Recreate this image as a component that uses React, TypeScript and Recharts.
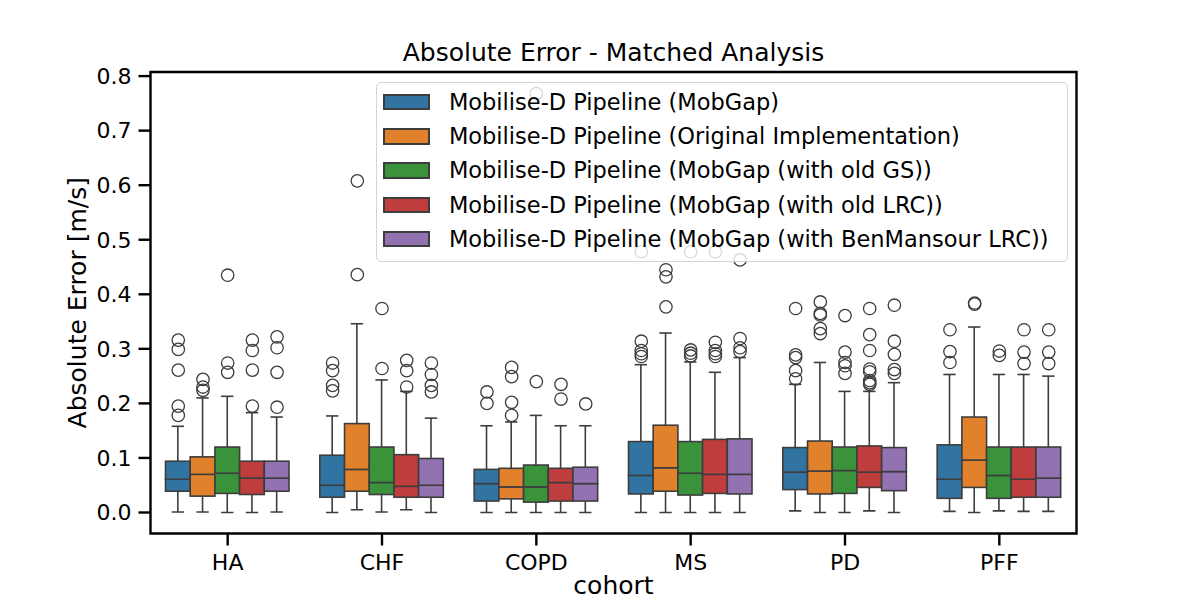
import React from 'react';
import {
  ComposedChart,
  Bar,
  Scatter,
  XAxis,
  YAxis,
  Legend,
  ReferenceArea,
  Label,
} from 'recharts';

const FONT = '"DejaVu Sans", sans-serif';
const LINE = '#3d3d3d';

const COHORTS = ['HA', 'CHF', 'COPD', 'MS', 'PD', 'PFF'];
const PIPELINES = [
  'Mobilise-D Pipeline (MobGap)',
  'Mobilise-D Pipeline (Original Implementation)',
  'Mobilise-D Pipeline (MobGap (with old GS))',
  'Mobilise-D Pipeline (MobGap (with old LRC))',
  'Mobilise-D Pipeline (MobGap (with BenMansour LRC))',
];
const COLORS = ['#3274a1', '#e1812c', '#3a923a', '#c03d3e', '#9372b2'];
const Y_TICKS = [0, 0.1, 0.2, 0.3, 0.4, 0.5, 0.6, 0.7, 0.8];
const Y_DOMAIN: [number, number] = [-0.0385, 0.8075];

// Per cohort: [whisker low, Q1, median, Q3, whisker high]
const mobgapStats = [
  [0.001, 0.039, 0.061, 0.094, 0.158],
  [0.0, 0.028, 0.05, 0.105, 0.177],
  [0.0, 0.021, 0.053, 0.079, 0.159],
  [0.0, 0.034, 0.068, 0.13, 0.271],
  [0.003, 0.042, 0.074, 0.119, 0.235],
  [0.002, 0.026, 0.061, 0.124, 0.253],
];
const originalStats = [
  [0.001, 0.03, 0.07, 0.102, 0.21],
  [0.005, 0.039, 0.079, 0.163, 0.346],
  [0.0, 0.025, 0.047, 0.081, 0.166],
  [0.0, 0.039, 0.082, 0.16, 0.329],
  [0.0, 0.034, 0.076, 0.131, 0.275],
  [0.0, 0.046, 0.096, 0.175, 0.34],
];
const oldGsStats = [
  [0.0, 0.035, 0.072, 0.12, 0.213],
  [0.001, 0.033, 0.055, 0.12, 0.243],
  [0.0, 0.019, 0.047, 0.087, 0.178],
  [0.0, 0.032, 0.072, 0.13, 0.276],
  [0.0, 0.035, 0.077, 0.12, 0.222],
  [0.003, 0.026, 0.068, 0.12, 0.253],
];
const oldLrcStats = [
  [0.0, 0.033, 0.063, 0.094, 0.183],
  [0.005, 0.028, 0.048, 0.106, 0.222],
  [0.0, 0.021, 0.055, 0.081, 0.159],
  [0.0, 0.035, 0.07, 0.134, 0.257],
  [0.003, 0.046, 0.074, 0.122, 0.222],
  [0.002, 0.028, 0.061, 0.12, 0.253],
];
const benMansourStats = [
  [0.001, 0.039, 0.063, 0.094, 0.175],
  [0.0, 0.028, 0.05, 0.099, 0.173],
  [0.0, 0.021, 0.053, 0.083, 0.159],
  [0.0, 0.034, 0.07, 0.135, 0.284],
  [0.0, 0.04, 0.075, 0.119, 0.238],
  [0.002, 0.028, 0.063, 0.12, 0.25],
];

// Fliers per cohort
const mobgapOutliers = [
  [0.316, 0.299, 0.261, 0.195, 0.178],
  [0.274, 0.26, 0.233, 0.223],
  [0.221, 0.2],
  [0.478, 0.314, 0.297, 0.291, 0.286],
  [0.374, 0.289, 0.284, 0.26, 0.245],
  [0.335, 0.295, 0.275],
];
const originalOutliers = [
  [0.244, 0.23, 0.224],
  [0.608, 0.436],
  [0.266, 0.249, 0.202, 0.178],
  [0.445, 0.432, 0.377],
  [0.386, 0.365, 0.362, 0.337, 0.328],
  [0.384, 0.382],
];
const oldGsOutliers = [
  [0.435, 0.274, 0.257],
  [0.374, 0.264],
  [0.768, 0.24],
  [0.478, 0.298, 0.292, 0.287],
  [0.361, 0.294, 0.275, 0.269, 0.255],
  [0.296, 0.288],
];
const oldLrcOutliers = [
  [0.316, 0.297, 0.261, 0.195],
  [0.279, 0.26, 0.23],
  [0.235, 0.208],
  [0.478, 0.312, 0.297, 0.291, 0.286],
  [0.374, 0.326, 0.297, 0.263, 0.258, 0.242, 0.238, 0.235],
  [0.335, 0.294, 0.273],
];
const benMansourOutliers = [
  [0.322, 0.302, 0.257, 0.193],
  [0.274, 0.253, 0.233, 0.221],
  [0.199],
  [0.463, 0.319, 0.302, 0.295],
  [0.38, 0.314, 0.29, 0.262, 0.255],
  [0.335, 0.294, 0.273],
];

const STATS = [mobgapStats, originalStats, oldGsStats, oldLrcStats, benMansourStats];
const OUTLIERS = [mobgapOutliers, originalOutliers, oldGsOutliers, oldLrcOutliers, benMansourOutliers];

// Box slot width as a share of one category band (seaborn dodge: 0.8 / 5 hues)
const DODGE = 0.8 / PIPELINES.length;
const BOX_SIZE = 24.7;

// Stacked segments per pipeline: invisible base, lower whisker, lower box, upper box, upper whisker
const rows = COHORTS.map((cohort, i) => {
  const row: Record<string, any> = { cohort };
  STATS.forEach((stats, k) => {
    const [lo, q1, med, q3, hi] = stats[i];
    row[`base${k}`] = lo;
    row[`lw${k}`] = q1 - lo;
    row[`blo${k}`] = med - q1;
    row[`bhi${k}`] = q3 - med;
    row[`hw${k}`] = hi - q3;
  });
  return row;
});

const outlierPoints = OUTLIERS.map((series, k) =>
  series.flatMap((vals, i) =>
    vals.map((v) => ({ pos: i + 0.5 + (k - 2) * DODGE, value: v }))
  )
);

const Empty = () => <g />;

const LowerWhisker = (p: any) => {
  const { x, y, width, height } = p;
  if (![x, y, width, height].every(Number.isFinite)) return <g />;
  const cx = x + width / 2;
  const yb = y + height;
  return (
    <g>
      <line x1={cx} x2={cx} y1={y} y2={yb} stroke={LINE} strokeWidth={1.6} />
      <line x1={cx - width / 4} x2={cx + width / 4} y1={yb} y2={yb} stroke={LINE} strokeWidth={1.6} />
    </g>
  );
};

const UpperWhisker = (p: any) => {
  const { x, y, width, height } = p;
  if (![x, y, width, height].every(Number.isFinite)) return <g />;
  const cx = x + width / 2;
  return (
    <g>
      <line x1={cx} x2={cx} y1={y} y2={y + height} stroke={LINE} strokeWidth={1.6} />
      <line x1={cx - width / 4} x2={cx + width / 4} y1={y} y2={y} stroke={LINE} strokeWidth={1.6} />
    </g>
  );
};

const makeBox = (color: string) => (p: any) => {
  const { x, y, width, height } = p;
  if (![x, y, width, height].every(Number.isFinite)) return <g />;
  return (
    <rect x={x} y={y} width={width} height={height} fill={color} stroke={LINE} strokeWidth={1.6} />
  );
};

const Ring = (p: any) => (
  <circle cx={p.cx} cy={p.cy} r={6.2} fill="none" stroke={LINE} strokeWidth={1.3} />
);

const LegendBox = () => (
  <div
    style={{
      width: 692,
      height: 180,
      boxSizing: 'border-box',
      border: '1.6px solid #d5d5d5',
      borderRadius: 5,
      background: 'rgba(255,255,255,0.8)',
      fontFamily: FONT,
      fontSize: 22.5,
      color: '#000',
      paddingTop: 1.7,
    }}
  >
    {PIPELINES.map((name, k) => (
      <div key={name} style={{ display: 'flex', alignItems: 'center', height: 34.25 }}>
        <div
          style={{
            marginLeft: 6.4,
            width: 47,
            height: 16.7,
            boxSizing: 'border-box',
            background: COLORS[k],
            border: `2px solid ${LINE}`,
            flex: 'none',
          }}
        />
        <span style={{ marginLeft: 18.5, lineHeight: 1, whiteSpace: 'nowrap' }}>{name}</span>
      </div>
    ))}
  </div>
);

const tickStyle = { fontSize: 22, fill: '#000', fontFamily: FONT };
const tickLineStyle = { stroke: '#000', strokeWidth: 2.4 };

export default function App() {
  return (
    <div
      style={{
        position: 'absolute',
        left: 0,
        top: 0,
        width: 1200,
        height: 600,
        background: '#fff',
        fontFamily: FONT,
      }}
    >
      <ComposedChart
        width={1200}
        height={600}
        data={rows}
        margin={{ top: 72, right: 123.5, bottom: 0, left: 0 }}
        barGap={0}
        barCategoryGap="10%"
        style={{ fontFamily: FONT }}
      >
        <XAxis
          dataKey="cohort"
          type="category"
          height={66.5}
          tickSize={12}
          tickMargin={9}
          axisLine={false}
          tickLine={tickLineStyle}
          tick={tickStyle}
          interval={0}
        >
          <Label value="cohort" position="insideBottom" offset={6} style={{ fontSize: 25, fill: '#000', fontFamily: FONT }} />
        </XAxis>
        <XAxis xAxisId="pos" dataKey="pos" type="number" domain={[0, COHORTS.length]} hide allowDataOverflow />
        <YAxis
          type="number"
          domain={Y_DOMAIN}
          ticks={Y_TICKS}
          tickFormatter={(v: number) => v.toFixed(1)}
          width={150.5}
          tickSize={12}
          tickMargin={7}
          axisLine={false}
          tickLine={tickLineStyle}
          tick={tickStyle}
          interval={0}
          allowDataOverflow
        >
          <Label
            value="Absolute Error [m/s]"
            angle={-90}
            position="insideLeft"
            offset={77}
            style={{ textAnchor: 'middle', fontSize: 25, fill: '#000', fontFamily: FONT }}
          />
        </YAxis>

        {PIPELINES.map((name, k) => [
          <Bar key={`base${k}`} dataKey={`base${k}`} stackId={`s${k}`} barSize={BOX_SIZE} shape={Empty} isAnimationActive={false} legendType="none" />,
          <Bar key={`lw${k}`} dataKey={`lw${k}`} stackId={`s${k}`} barSize={BOX_SIZE} shape={LowerWhisker} isAnimationActive={false} legendType="none" />,
          <Bar key={`blo${k}`} dataKey={`blo${k}`} stackId={`s${k}`} barSize={BOX_SIZE} shape={makeBox(COLORS[k])} isAnimationActive={false} legendType="none" />,
          <Bar key={`bhi${k}`} dataKey={`bhi${k}`} stackId={`s${k}`} barSize={BOX_SIZE} shape={makeBox(COLORS[k])} isAnimationActive={false} legendType="none" />,
          <Bar key={`hw${k}`} dataKey={`hw${k}`} stackId={`s${k}`} barSize={BOX_SIZE} shape={UpperWhisker} isAnimationActive={false} legendType="none" />,
        ])}

        {PIPELINES.map((name, k) => (
          <Scatter
            key={`fliers${k}`}
            name={name}
            xAxisId="pos"
            data={outlierPoints[k]}
            dataKey="value"
            shape={Ring}
            isAnimationActive={false}
            legendType="none"
          />
        ))}

        <ReferenceArea
          xAxisId="pos"
          x1={0}
          x2={COHORTS.length}
          y1={Y_DOMAIN[0]}
          y2={Y_DOMAIN[1]}
          fill="none"
          fillOpacity={0}
          stroke="#000"
          strokeWidth={2.4}
          ifOverflow="visible"
        />

        <Legend
          layout="horizontal"
          verticalAlign="middle"
          align="center"
          wrapperStyle={{ position: 'absolute', left: 376, top: 82.3, width: 692, height: 180 }}
          content={() => <LegendBox />}
        />
      </ComposedChart>
      <div
        style={{
          position: 'absolute',
          left: 150.5,
          width: 926,
          top: 38,
          textAlign: 'center',
          fontSize: 25,
          lineHeight: '30px',
          color: '#000',
          whiteSpace: 'nowrap',
        }}
      >
        Absolute Error - Matched Analysis
      </div>
    </div>
  );
}
